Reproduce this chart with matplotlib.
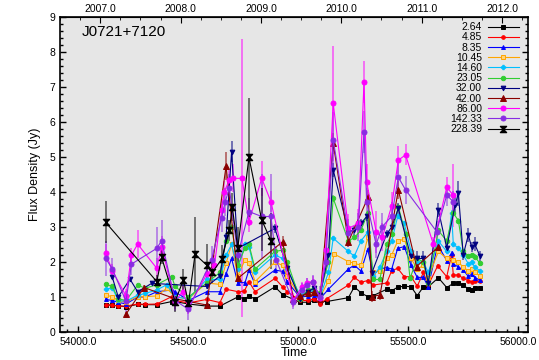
import numpy as np
import matplotlib
matplotlib.use("Agg")
import matplotlib.pyplot as plt
from matplotlib.path import Path
from matplotlib.colors import to_rgba
from matplotlib.ticker import MultipleLocator, FixedLocator, FuncFormatter

plt.rcParams['font.family'] = ['Liberation Sans', 'DejaVu Sans']

source_name = "J0721+7120"
freq_labels = ["2.64", "4.85", "8.35", "10.45", "14.60", "23.05",
               "32.00", "42.00", "86.00", "142.33", "228.39"]
year_ticks = [2007.0, 2008.0, 2009.0, 2010.0, 2011.0, 2012.0]

# (MJD, flux density [Jy], error [Jy]) per observing frequency
s_2p64 = [(54126, 0.78, 0.02), (54156, 0.76, 0.02), (54183, 0.75, 0.02), (54218, 0.72, 0.02),
          (54271, 0.79, 0.02), (54305, 0.78, 0.02), (54358, 0.78, 0.02), (54426, 0.87, 0.02),
          (54441, 0.87, 0.02), (54502, 0.80, 0.02), (54585, 0.74, 0.02), (54645, 0.74, 0.02),
          (54729, 1.01, 0.02), (54756, 0.94, 0.02), (54777, 1.03, 0.02), (54805, 0.94, 0.02),
          (54895, 1.29, 0.03), (54930, 1.07, 0.02), (55009, 0.85, 0.02), (55044, 0.85, 0.02),
          (55073, 0.90, 0.02), (55100, 0.87, 0.02), (55130, 0.87, 0.02), (55229, 0.98, 0.02),
          (55256, 1.29, 0.03), (55286, 1.12, 0.02), (55317, 1.01, 0.02), (55342, 1.04, 0.02),
          (55403, 1.22, 0.02), (55426, 1.18, 0.02), (55453, 1.28, 0.02), (55483, 1.31, 0.02),
          (55514, 1.29, 0.02), (55542, 1.04, 0.02), (55570, 1.29, 0.02), (55592, 1.29, 0.02),
          (55638, 1.55, 0.03), (55676, 1.27, 0.02), (55706, 1.39, 0.02), (55729, 1.41, 0.02),
          (55751, 1.34, 0.02), (55774, 1.23, 0.02), (55789, 1.20, 0.02), (55804, 1.27, 0.02),
          (55827, 1.27, 0.02)]

s_4p85 = [(54126, 0.78, 0.02), (54156, 0.77, 0.02), (54183, 0.74, 0.02), (54218, 0.74, 0.02),
          (54271, 0.80, 0.02), (54305, 0.79, 0.02), (54358, 0.80, 0.02), (54426, 1.01, 0.03),
          (54441, 0.90, 0.02), (54502, 0.83, 0.02), (54585, 0.93, 0.02), (54645, 0.84, 0.02),
          (54673, 1.22, 0.03), (54729, 1.15, 0.03), (54756, 1.17, 0.03), (54777, 1.44, 0.03),
          (54805, 1.15, 0.03), (54895, 1.53, 0.03), (54930, 1.29, 0.03), (54951, 1.15, 0.03),
          (55009, 0.90, 0.02), (55044, 0.90, 0.02), (55073, 0.95, 0.02), (55100, 0.80, 0.02),
          (55130, 0.95, 0.02), (55229, 1.34, 0.03), (55256, 1.56, 0.03), (55286, 1.42, 0.03),
          (55317, 1.47, 0.03), (55342, 1.34, 0.03), (55403, 1.40, 0.03), (55426, 1.75, 0.03),
          (55453, 1.82, 0.03), (55483, 1.58, 0.03), (55514, 1.58, 0.03), (55542, 1.31, 0.03),
          (55570, 1.70, 0.03), (55592, 1.34, 0.03), (55635, 1.89, 0.04), (55676, 1.58, 0.03),
          (55698, 2.20, 0.04), (55706, 1.63, 0.03), (55729, 1.63, 0.03), (55751, 1.53, 0.03),
          (55774, 1.47, 0.03), (55789, 1.43, 0.03), (55804, 1.45, 0.03), (55827, 1.45, 0.03)]

s_8p35 = [(54126, 0.93, 0.03), (54156, 0.90, 0.03), (54183, 0.85, 0.03), (54218, 0.80, 0.03),
          (54271, 1.00, 0.03), (54305, 1.00, 0.03), (54358, 1.15, 0.03), (54426, 1.20, 0.03),
          (54441, 1.15, 0.03), (54502, 0.90, 0.03), (54585, 1.15, 0.03), (54645, 1.15, 0.03),
          (54673, 1.66, 0.04), (54698, 2.10, 0.05), (54726, 1.41, 0.04), (54759, 1.41, 0.04),
          (54777, 1.77, 0.04), (54805, 1.36, 0.04), (54895, 1.77, 0.04), (54930, 1.73, 0.04),
          (54951, 1.44, 0.04), (55009, 0.99, 0.03), (55044, 1.03, 0.03), (55073, 1.07, 0.03),
          (55100, 0.95, 0.03), (55138, 1.22, 0.03), (55229, 1.80, 0.04), (55256, 1.91, 0.04),
          (55286, 1.74, 0.04), (55317, 2.36, 0.05), (55342, 1.63, 0.04), (55372, 1.80, 0.04),
          (55403, 1.84, 0.04), (55426, 1.80, 0.04), (55453, 2.39, 0.05), (55483, 2.44, 0.05),
          (55514, 1.90, 0.04), (55542, 1.56, 0.04), (55570, 1.56, 0.04), (55592, 1.29, 0.04),
          (55635, 2.49, 0.05), (55676, 2.04, 0.05), (55698, 2.26, 0.05), (55706, 1.94, 0.05),
          (55729, 1.86, 0.05), (55751, 1.77, 0.05), (55774, 1.59, 0.05), (55789, 1.65, 0.05),
          (55804, 1.55, 0.05), (55827, 1.49, 0.05)]

s_10p45 = [(54126, 1.05, 0.03), (54156, 1.01, 0.03), (54183, 0.90, 0.03), (54218, 0.85, 0.03),
           (54271, 1.01, 0.03), (54305, 1.01, 0.03), (54358, 1.03, 0.03), (54403, 1.25, 0.03),
           (54441, 1.00, 0.03), (54502, 0.95, 0.03), (54585, 1.40, 0.04), (54645, 1.36, 0.04),
           (54673, 1.96, 0.05), (54698, 2.51, 0.06), (54726, 1.60, 0.05), (54759, 2.06, 0.05),
           (54777, 1.96, 0.05), (54805, 1.44, 0.04), (54895, 2.00, 0.05), (54930, 1.90, 0.05),
           (54951, 1.60, 0.05), (55009, 1.00, 0.03), (55044, 1.10, 0.03), (55073, 1.12, 0.03),
           (55100, 1.00, 0.03), (55138, 1.45, 0.04), (55164, 2.23, 0.05), (55229, 2.01, 0.05),
           (55256, 1.96, 0.05), (55286, 1.91, 0.05), (55317, 2.70, 0.06), (55342, 1.70, 0.05),
           (55372, 1.75, 0.05), (55403, 2.10, 0.05), (55426, 2.20, 0.05), (55453, 2.60, 0.06),
           (55483, 2.65, 0.06), (55514, 2.10, 0.05), (55542, 1.80, 0.05), (55570, 1.90, 0.05),
           (55592, 1.55, 0.05), (55638, 2.30, 0.06), (55676, 2.10, 0.06), (55706, 2.05, 0.06),
           (55729, 2.00, 0.06), (55751, 1.85, 0.06), (55774, 1.75, 0.06), (55789, 1.80, 0.06),
           (55804, 1.70, 0.06), (55827, 1.60, 0.06)]

s_14p60 = [(54126, 1.23, 0.04), (54156, 1.26, 0.04), (54183, 0.90, 0.04), (54218, 0.88, 0.04),
           (54271, 1.05, 0.04), (54305, 1.10, 0.04), (54358, 1.20, 0.04), (54403, 1.35, 0.04),
           (54441, 1.00, 0.04), (54502, 0.95, 0.04), (54585, 1.50, 0.05), (54645, 1.50, 0.05),
           (54673, 2.20, 0.06), (54698, 2.50, 0.06), (54726, 1.80, 0.05), (54759, 2.50, 0.06),
           (54777, 2.44, 0.06), (54805, 1.70, 0.05), (54895, 2.20, 0.06), (54930, 2.10, 0.06),
           (54951, 1.80, 0.05), (55009, 1.05, 0.04), (55044, 1.15, 0.04), (55073, 1.18, 0.04),
           (55100, 1.00, 0.04), (55138, 1.70, 0.05), (55160, 2.68, 0.07), (55229, 2.30, 0.06),
           (55256, 2.17, 0.06), (55286, 2.60, 0.06), (55317, 2.85, 0.07), (55342, 1.60, 0.05),
           (55372, 1.85, 0.05), (55403, 2.30, 0.06), (55426, 2.60, 0.06), (55453, 3.30, 0.08),
           (55483, 3.10, 0.08), (55514, 2.30, 0.06), (55542, 2.00, 0.06), (55570, 2.00, 0.06),
           (55592, 1.70, 0.05), (55638, 2.60, 0.07), (55676, 2.30, 0.07), (55698, 3.40, 0.08),
           (55706, 2.50, 0.07), (55729, 2.40, 0.07), (55751, 2.20, 0.07), (55774, 1.95, 0.06),
           (55789, 2.00, 0.06), (55804, 1.85, 0.06), (55827, 1.75, 0.06)]

s_23p05 = [(54126, 1.36, 0.05), (54156, 1.30, 0.05), (54183, 0.95, 0.05), (54218, 0.90, 0.05),
           (54271, 1.34, 0.05), (54305, 1.25, 0.05), (54358, 1.35, 0.05), (54426, 1.58, 0.05),
           (54441, 1.30, 0.05), (54502, 1.00, 0.05), (54585, 1.40, 0.05), (54645, 1.70, 0.06),
           (54673, 2.60, 0.08), (54698, 3.00, 0.08), (54726, 1.90, 0.06), (54759, 2.40, 0.07),
           (54777, 2.50, 0.07), (54805, 1.80, 0.06), (54895, 2.30, 0.07), (54930, 2.34, 0.07),
           (54951, 2.00, 0.06), (55009, 0.95, 0.05), (55044, 1.20, 0.05), (55073, 1.25, 0.05),
           (55100, 1.10, 0.05), (55138, 2.00, 0.06), (55160, 3.82, 0.10), (55229, 2.60, 0.07),
           (55256, 2.70, 0.07), (55286, 2.90, 0.08), (55317, 3.40, 0.09), (55342, 1.50, 0.05),
           (55372, 1.50, 0.05), (55403, 2.50, 0.07), (55426, 2.80, 0.08), (55456, 3.58, 0.09),
           (55489, 2.80, 0.08), (55509, 1.53, 0.05), (55542, 2.10, 0.07), (55570, 2.00, 0.07),
           (55592, 1.40, 0.05), (55638, 2.90, 0.08), (55676, 2.60, 0.08), (55706, 3.40, 0.09),
           (55729, 3.18, 0.09), (55751, 2.30, 0.07), (55774, 2.17, 0.07), (55789, 2.20, 0.07),
           (55804, 2.15, 0.07), (55827, 1.96, 0.07)]

s_32p00 = [(54156, 1.56, 0.06), (54183, 1.00, 0.06), (54236, 1.51, 0.06), (54271, 1.15, 0.06),
           (54335, 1.39, 0.06), (54585, 1.30, 0.06), (54645, 1.60, 0.08), (54673, 2.70, 0.12),
           (54698, 5.15, 0.30), (54726, 2.39, 0.10), (54895, 2.96, 0.12), (54951, 1.82, 0.10),
           (55009, 0.95, 0.06), (55044, 1.15, 0.06), (55073, 1.25, 0.06), (55100, 1.05, 0.06),
           (55138, 2.20, 0.10), (55160, 4.63, 0.20), (55229, 2.87, 0.12), (55256, 2.90, 0.12),
           (55286, 3.10, 0.12), (55312, 3.30, 0.14), (55335, 1.68, 0.08), (55403, 2.80, 0.12),
           (55426, 3.00, 0.12), (55456, 3.53, 0.15), (55512, 2.17, 0.20), (55539, 2.10, 0.20),
           (55570, 2.10, 0.20), (55592, 1.40, 0.10), (55638, 3.49, 0.20), (55676, 2.40, 0.15),
           (55714, 3.63, 0.25), (55729, 3.96, 0.35), (55751, 2.20, 0.15), (55774, 2.77, 0.20),
           (55789, 2.43, 0.15), (55804, 2.50, 0.20), (55827, 2.17, 0.15)]

s_42p00 = [(54218, 0.51, 0.05), (54300, 1.27, 0.08), (54441, 0.95, 0.08), (54585, 0.77, 0.08),
           (54673, 4.74, 0.40), (54726, 1.53, 0.10), (54930, 2.58, 0.15), (54979, 0.95, 0.08),
           (55009, 1.03, 0.08), (55044, 1.10, 0.08), (55073, 1.15, 0.08), (55100, 0.95, 0.08),
           (55160, 5.39, 0.30), (55229, 2.58, 0.15), (55320, 3.87, 0.20), (55335, 1.01, 0.15),
           (55373, 1.06, 0.15), (55456, 4.06, 0.25), (55539, 1.87, 0.15), (55638, 2.43, 0.15)]

s_86p00 = [(54126, 2.25, 0.25), (54156, 1.75, 0.20), (54218, 1.03, 0.20), (54243, 2.20, 0.20),
           (54271, 2.51, 0.40), (54358, 1.82, 0.30), (54380, 2.44, 0.30), (54441, 0.87, 0.20),
           (54475, 1.15, 0.20), (54502, 0.70, 0.20), (54585, 1.65, 0.30), (54620, 1.90, 0.30),
           (54653, 3.49, 0.30), (54664, 4.00, 0.30), (54688, 4.34, 0.30), (54703, 4.39, 0.40),
           (54745, 4.39, 3.97), (54777, 3.15, 0.30), (54835, 4.39, 0.50), (54877, 3.72, 0.30),
           (54979, 0.90, 0.20), (55017, 1.29, 0.15), (55039, 1.40, 0.15), (55066, 1.44, 0.15),
           (55100, 0.98, 0.20), (55126, 2.34, 0.30), (55160, 6.53, 1.65), (55229, 2.96, 0.40),
           (55274, 3.10, 0.40), (55300, 7.15, 0.60), (55312, 4.29, 0.50), (55355, 2.87, 0.60),
           (55383, 2.70, 0.40), (55426, 3.61, 0.40), (55456, 4.91, 0.40), (55489, 5.06, 0.30),
           (55615, 2.51, 0.20), (55676, 4.13, 0.30), (55706, 3.91, 0.90)]

s_142p33 = [(54126, 2.10, 0.50), (54156, 1.80, 0.30), (54218, 0.88, 0.30), (54243, 1.94, 0.30),
            (54358, 2.39, 0.60), (54380, 2.61, 0.60), (54441, 0.90, 0.30), (54502, 0.65, 0.30),
            (54607, 2.06, 0.40), (54653, 3.27, 0.40), (54668, 3.70, 0.40), (54688, 4.11, 0.40),
            (54726, 2.20, 0.40), (54777, 3.44, 0.40), (54835, 3.30, 1.20), (54877, 3.30, 1.20),
            (54900, 2.06, 0.40), (54979, 0.87, 0.20), (55017, 1.20, 0.20), (55039, 1.34, 0.20),
            (55066, 1.44, 0.20), (55100, 1.00, 0.30), (55126, 2.00, 0.30), (55160, 5.49, 0.80),
            (55229, 2.82, 0.40), (55274, 3.00, 0.40), (55300, 5.72, 0.60), (55312, 3.72, 0.40),
            (55355, 2.50, 0.40), (55383, 3.01, 0.40), (55426, 3.31, 0.40), (55456, 4.42, 0.40),
            (55489, 4.06, 0.40), (55630, 2.87, 0.30), (55676, 3.91, 0.30), (55706, 3.72, 0.30)]

s_228p39 = [(54126, 3.13, 0.60), (54358, 1.44, 0.20), (54380, 2.13, 0.20), (54441, 0.87, 0.30),
            (54479, 1.49, 0.30), (54502, 0.82, 0.25), (54532, 2.22, 1.07), (54585, 1.91, 0.60),
            (54610, 1.70, 0.30), (54653, 2.08, 0.40), (54688, 2.91, 0.30), (54701, 3.58, 0.40),
            (54726, 2.39, 0.60), (54777, 4.99, 1.70), (54835, 3.20, 0.90), (54877, 2.61, 0.80)]

series = [s_2p64, s_4p85, s_8p35, s_10p45, s_14p60, s_23p05,
          s_32p00, s_42p00, s_86p00, s_142p33, s_228p39]

# filled bowtie (hourglass) symbol for the highest frequency
bowtie = Path([(-1, -1), (1, -1), (-1, 1), (1, 1), (-1, -1)],
              [Path.MOVETO, Path.LINETO, Path.LINETO, Path.LINETO, Path.CLOSEPOLY])

styles = [
    dict(color="black", marker="s", ms=2.8),
    dict(color="red", marker="o", ms=2.6),
    dict(color="blue", marker="^", ms=2.8),
    dict(color="orange", marker="s", ms=3.2, mfc="#ffd27a"),
    dict(color="deepskyblue", marker="P", ms=3.2),
    dict(color="limegreen", marker="o", ms=3.2),
    dict(color="navy", marker="v", ms=3.4),
    dict(color="darkred", marker="^", ms=4.0),
    dict(color="magenta", marker="o", ms=3.6),
    dict(color="blueviolet", marker="o", ms=3.6),
    dict(color="black", marker=bowtie, ms=4.4, mew=1.0),
]

fig = plt.figure(figsize=(5.39, 3.60), dpi=100)
ax = fig.add_axes([0.1113, 0.0778, 0.8677, 0.875])
ax.set_facecolor("#e6e6e6")

handles = []
for data, lab, st in zip(series, freq_labels, styles):
    arr = np.array(data, dtype=float)
    c = st["color"]
    cont = ax.errorbar(arr[:, 0], arr[:, 1], yerr=arr[:, 2], color=c,
                       ecolor=to_rgba(c, 0.55), elinewidth=1.3, capsize=0,
                       lw=0.8, marker=st["marker"], ms=st["ms"],
                       mfc=st.get("mfc", c), mec=c, mew=st.get("mew", 0.7),
                       label=lab)
    handles.append(cont[0])

ax.set_xlim(53918, 56044)
ax.set_ylim(0, 9)
ax.xaxis.set_major_locator(MultipleLocator(500))
ax.xaxis.set_minor_locator(MultipleLocator(50))
ax.yaxis.set_major_locator(MultipleLocator(1))
ax.yaxis.set_minor_locator(MultipleLocator(0.2))
ax.xaxis.set_major_formatter(FuncFormatter(lambda v, p: f"{v:.1f}"))
ax.tick_params(which="both", direction="in", right=True, top=False,
               labelsize=7.5, width=1.0, color="black")
ax.tick_params(which="major", length=4.5)
ax.tick_params(which="minor", length=2.5)
for sp in ax.spines.values():
    sp.set_linewidth(1.2)

ax.set_xlabel("Time", fontsize=9, labelpad=0)
ax.set_ylabel("Flux Density (Jy)", fontsize=9, labelpad=6)

# calendar-year axis on top
mjd_to_year = lambda m: 2007.0 + (np.asarray(m) - 54101.0) / 365.25
year_to_mjd = lambda y: 54101.0 + (np.asarray(y) - 2007.0) * 365.25
top = ax.secondary_xaxis("top", functions=(mjd_to_year, year_to_mjd))
top.xaxis.set_major_locator(FixedLocator(year_ticks))
top.xaxis.set_minor_locator(MultipleLocator(0.25))
top.xaxis.set_major_formatter(FuncFormatter(lambda v, p: f"{v:.1f}"))
top.tick_params(which="both", direction="in", labelsize=7.5, pad=2)
top.tick_params(which="major", length=4.5)
top.tick_params(which="minor", length=2.5)

ax.text(0.047, 0.952, source_name, transform=ax.transAxes, fontsize=11,
        ha="left", va="center")

ax.legend(handles=handles, labels=freq_labels, loc="upper right",
          bbox_to_anchor=(0.985, 0.99), frameon=False, fontsize=7.5,
          markerfirst=False, handlelength=2.9, handletextpad=0.6,
          labelspacing=0.02, borderpad=0.2, borderaxespad=0.0)

fig.savefig("out.png", dpi=100)
